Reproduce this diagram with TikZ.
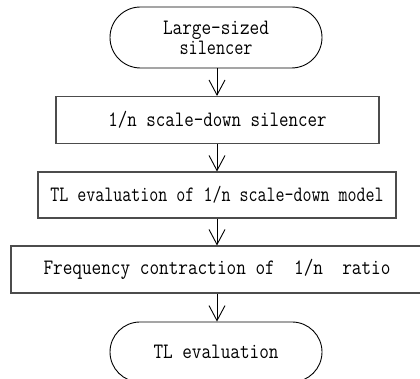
\documentclass[tikz,border=0pt]{standalone}
\usepackage{graphicx}
\usetikzlibrary{arrows.meta,shapes.misc}
\newcommand{\fitw}[2]{\resizebox{#1}{\height}{#2}}
\begin{document}
\begin{tikzpicture}[x=1pt,y=1pt,
  stad/.style={rounded rectangle, draw=black, line width=0.9pt, inner sep=0pt, align=center},
  boxn/.style={rectangle, draw=black!70, line width=1.1pt, inner sep=0pt},
  arr/.style={draw=black, line width=0.9pt, -{Straight Barb[length=15pt,width=16pt]}},
  font=\ttfamily\fontsize{22}{20}\selectfont]
\useasboundingbox (0,0) rectangle (420,379);
\clip (0,0) rectangle (420,379);
\coordinate (axis) at (217,0);
\node[stad, minimum width=212pt, minimum height=61pt] (start) at (216,341.5)
  {\fitw{106pt}{Large-sized}\\\fitw{73pt}{silencer}};
\node[boxn, minimum width=323pt, minimum height=47pt] (scale) at (217.5,259)
  {\fitw{218pt}{1/n scale-down silencer}};
\node[boxn, minimum width=358pt, minimum height=46pt] (tlm) at (217,184)
  {\fitw{333pt}{TL evaluation of 1/n scale-down model}};
\node[boxn, minimum width=412pt, minimum height=47pt] (freq) at (217,109.5)
  {\fitw{347pt}{Frequency contraction of\ \ 1/n\ \ ratio}};
\node[stad, minimum width=212pt, minimum height=60pt] (stop) at (216,27)
  {\fitw{125pt}{TL evaluation}};
\draw[arr] (start.south -| axis) -- (scale.north -| axis);
\draw[arr] (scale.south -| axis) -- (tlm.north -| axis);
\draw[arr] (tlm.south -| axis) -- (freq.north -| axis);
\draw[arr] (freq.south -| axis) -- (stop.north -| axis);
\end{tikzpicture}
\end{document}
